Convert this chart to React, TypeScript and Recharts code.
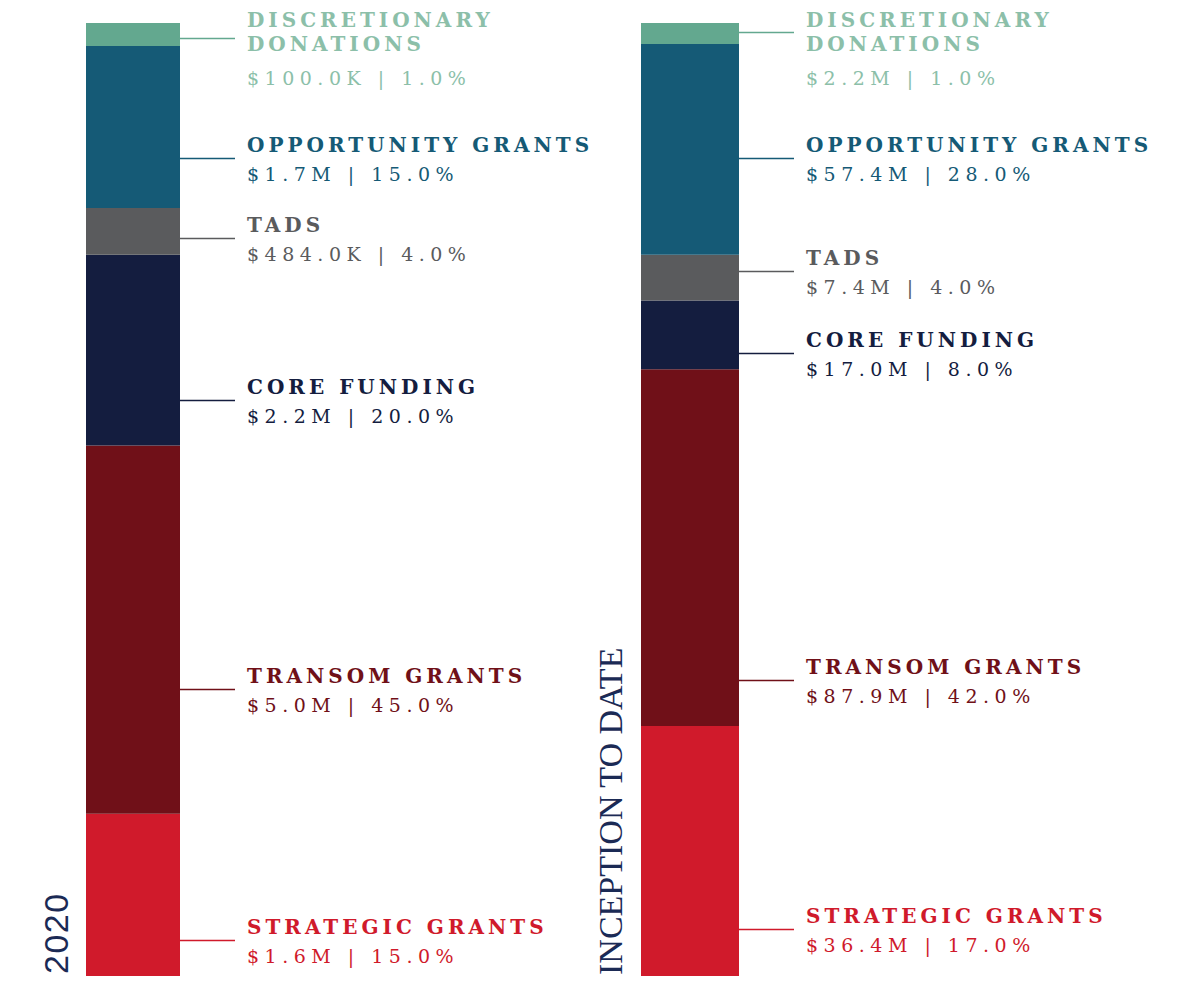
import React from "react"
import { Bar, BarChart, XAxis, YAxis } from "recharts"

// segment order: bottom -> top
const categories = ["Strategic Grants", "Transom Grants", "Core Funding", "TADS", "Opportunity Grants", "Discretionary Donations"]
const colors = ["#d01a2b", "#701018", "#141d3f", "#5a5b5d", "#155a76", "#63a88f"]
const textColors = ["#d01a2b", "#701018", "#141d3f", "#5a5b5d", "#155a76", "#8cbfa9"]

const amounts2020 = ["$1.6M", "$5.0M", "$2.2M", "$484.0K", "$1.7M", "$100.0K"]
const pct2020 = [15, 45, 20, 4, 15, 1]
const amountsItd = ["$36.4M", "$87.9M", "$17.0M", "$7.4M", "$57.4M", "$2.2M"]
const pctItd = [17, 42, 8, 4, 28, 1]

// segment heights as drawn (share of bar, %)
const barShare2020 = [17.0, 38.6, 20.0, 4.9, 17.0, 2.4]
const barShareItd = [26.2, 37.4, 7.2, 4.8, 22.1, 2.2]

// where each leader line leaves its segment (fraction from segment top)
const leader2020 = [0.78, 0.66, 0.76, 0.64, 0.69, 0.65]
const leaderItd = [0.81, 0.87, 0.77, 0.35, 0.54, 0.43]

const SLAB = "'DejaVu Serif', serif"
const TOP = 23

function splitName(name: string) {
  const up = name.toUpperCase()
  return up.length > 20 ? up.split(" ") : [up]
}

function makeLabel(i: number, amounts: string[], pcts: number[], fracs: number[]) {
  return (p: any) => {
    const x = Number(p.x)
    const y = Number(p.y)
    const w = Number(p.width)
    const h = Number(p.height)
    const ly = Math.round(y + h * fracs[i]) + 0.5
    const x0 = x + w
    const x1 = x0 + 55
    const tx = x1 + 12
    const lines = splitName(categories[i])
    let first = ly - 7 - 24 * (lines.length - 1)
    if (first < TOP + 4) first = TOP + 4
    const last = first + 24 * (lines.length - 1)
    const valY = lines.length > 1 ? last + 34 : last + 29
    return (
      <g key={`lbl-${i}`}>
        <line x1={x0} x2={x1} y1={ly} y2={ly} stroke={colors[i]} strokeWidth={1.5} />
        {lines.map((t, k) => (
          <text key={k} x={tx} y={first + 24 * k} fill={textColors[i]} fontFamily={SLAB} fontWeight={700} fontSize={20} letterSpacing={4}>
            {t}
          </text>
        ))}
        <text x={tx} y={valY} fill={textColors[i]} fontFamily={SLAB} fontSize={19} letterSpacing={5.5}>
          {`${amounts[i]} | ${pcts[i].toFixed(1)}%`}
        </text>
      </g>
    )
  }
}

function StackChart(props: { shares: number[]; amounts: string[]; pcts: number[]; fracs: number[]; width: number; barLeft: number; barSize: number }) {
  const { shares, amounts, pcts, fracs, width, barLeft, barSize } = props
  const row: Record<string, any> = { name: "total" }
  shares.forEach((v, i) => (row["s" + i] = v))
  const total = shares.reduce((a, b) => a + b, 0)
  const pad = 20
  return (
    <BarChart
      width={width}
      height={982}
      data={[row]}
      margin={{ top: TOP, bottom: 6, left: barLeft - pad, right: width - barLeft - barSize - pad }}
    >
      <XAxis dataKey="name" hide />
      <YAxis hide domain={[0, total]} />
      {shares.map((_, i) => (
        <Bar
          key={i}
          dataKey={"s" + i}
          stackId="a"
          fill={colors[i]}
          barSize={barSize}
          isAnimationActive={false}
          label={makeLabel(i, amounts, pcts, fracs)}
        />
      ))}
    </BarChart>
  )
}

export default function App() {
  return (
    <div style={{ position: "absolute", left: 0, top: 0, width: 1187, height: 982, background: "#fff" }}>
      <div style={{ position: "absolute", left: 0, top: 0 }}>
        <StackChart shares={barShare2020} amounts={amounts2020} pcts={pct2020} fracs={leader2020} width={620} barLeft={86} barSize={94} />
      </div>
      <div style={{ position: "absolute", left: 555, top: 0 }}>
        <StackChart shares={barShareItd} amounts={amountsItd} pcts={pctItd} fracs={leaderItd} width={632} barLeft={86} barSize={98} />
      </div>
      <svg width={1187} height={982} style={{ position: "absolute", left: 0, top: 0, pointerEvents: "none" }}>
        <text x={68} y={974} transform="rotate(-90 68 974)" fill="#1b2a55" fontFamily="'Liberation Sans', Arial, sans-serif" fontSize={34} letterSpacing={1.5}>
          2020
        </text>
        <text x={622} y={975} transform="rotate(-90 622 975)" fill="#1b2a55" fontFamily="'Liberation Serif', serif" fontSize={34}>
          INCEPTION TO DATE
        </text>
      </svg>
    </div>
  )
}
